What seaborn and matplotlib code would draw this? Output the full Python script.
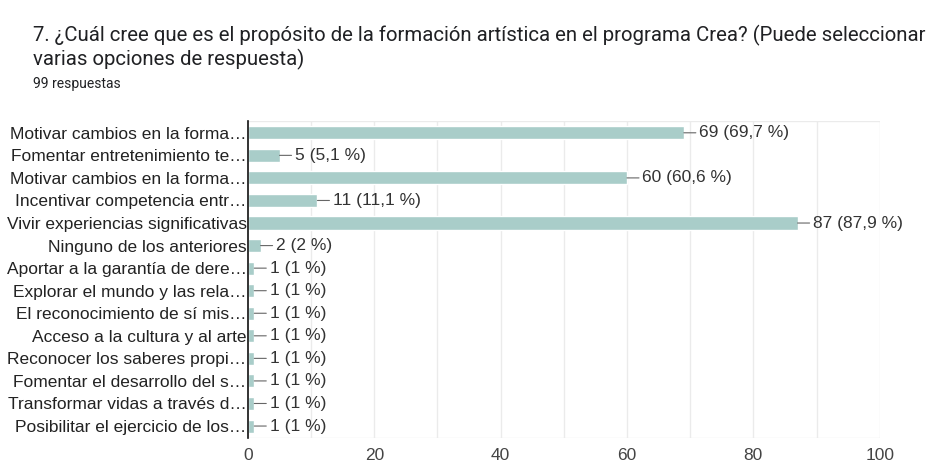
import pandas as pd
import numpy as np
import matplotlib.pyplot as plt
import seaborn as sns

# datos de la encuesta
opciones = [
    'Motivar cambios en la forma…',
    'Fomentar entretenimiento te…',
    'Motivar cambios en la forma…',
    'Incentivar competencia entr…',
    'Vivir experiencias significativas',
    'Ninguno de los anteriores',
    'Aportar a la garantía de dere…',
    'Explorar el mundo y las rela…',
    'El reconocimiento de sí mis…',
    'Acceso a la cultura y al arte',
    'Reconocer los saberes propi…',
    'Fomentar el desarrollo del s…',
    'Transformar vidas a través d…',
    'Posibilitar el ejercicio de los…',
]
conteos = [69, 5, 60, 11, 87, 2, 1, 1, 1, 1, 1, 1, 1, 1]
porcentajes = ['69,7', '5,1', '60,6', '11,1', '87,9', '2', '1', '1', '1', '1', '1', '1', '1', '1']
ticks_x = [0, 20, 40, 60, 80, 100]

df = pd.DataFrame({'pos': range(len(opciones)), 'conteo': conteos})

sns.set_style('white')
plt.rcParams['font.family'] = ['Liberation Sans', 'DejaVu Sans']

fig = plt.figure(figsize=(9.5, 4.63), dpi=100)
ax = fig.add_axes([0.261, 0.054, 0.665, 0.685])

sns.barplot(data=df, x='conteo', y='pos', orient='h', color='#a9cdc9',
            saturation=1, width=0.58, ax=ax, zorder=3)

# rejilla vertical
for v in range(10, 101, 10):
    ax.axvline(v, color='#ebebeb', lw=1, zorder=0)
ax.axhline(-0.53, color='#ebebeb', lw=1, zorder=0)
ax.axhline(13.53, color='#ebebeb', lw=1, zorder=0)

ax.set_xlim(0, 100)
ax.set_ylim(13.53, -0.53)
ax.set_xticks(ticks_x)
ax.set_xticklabels([str(t) for t in ticks_x], fontsize=12.5, color='#444444')
ax.set_yticks(range(len(opciones)))
ax.set_yticklabels(opciones, fontsize=12.5, color='#222222')
ax.tick_params(axis='y', length=0, pad=1)
ax.tick_params(axis='x', length=0, pad=7)
ax.set_xlabel('')
ax.set_ylabel('')

for s in ['top', 'right', 'bottom']:
    ax.spines[s].set_visible(False)
ax.spines['left'].set_color('#111111')
ax.spines['left'].set_linewidth(1.2)
ax.spines['left'].set_zorder(4)

# etiquetas con línea de conexión
for i, (c, p) in enumerate(zip(conteos, porcentajes)):
    ax.annotate(f'{c} ({p} %)', xy=(c, i), xytext=(11, 0), textcoords='offset points',
                va='center', ha='left', fontsize=12.5, color='#333333',
                arrowprops=dict(arrowstyle='-', color='#666666', lw=0.8,
                                shrinkA=0, shrinkB=0))

fig.text(0.035, 0.924, '7. ¿Cuál cree que es el propósito de la formación artística en el programa Crea? (Puede seleccionar',
         fontsize=14.7, color='#202124', family=['Roboto', 'DejaVu Sans'], va='center')
fig.text(0.035, 0.872, 'varias opciones de respuesta)',
         fontsize=14.7, color='#202124', family=['Roboto', 'DejaVu Sans'], va='center')
fig.text(0.035, 0.818, '99 respuestas', fontsize=10, color='#202124',
         family=['Roboto', 'DejaVu Sans'], va='center')

fig.savefig('out.png', dpi=100)
